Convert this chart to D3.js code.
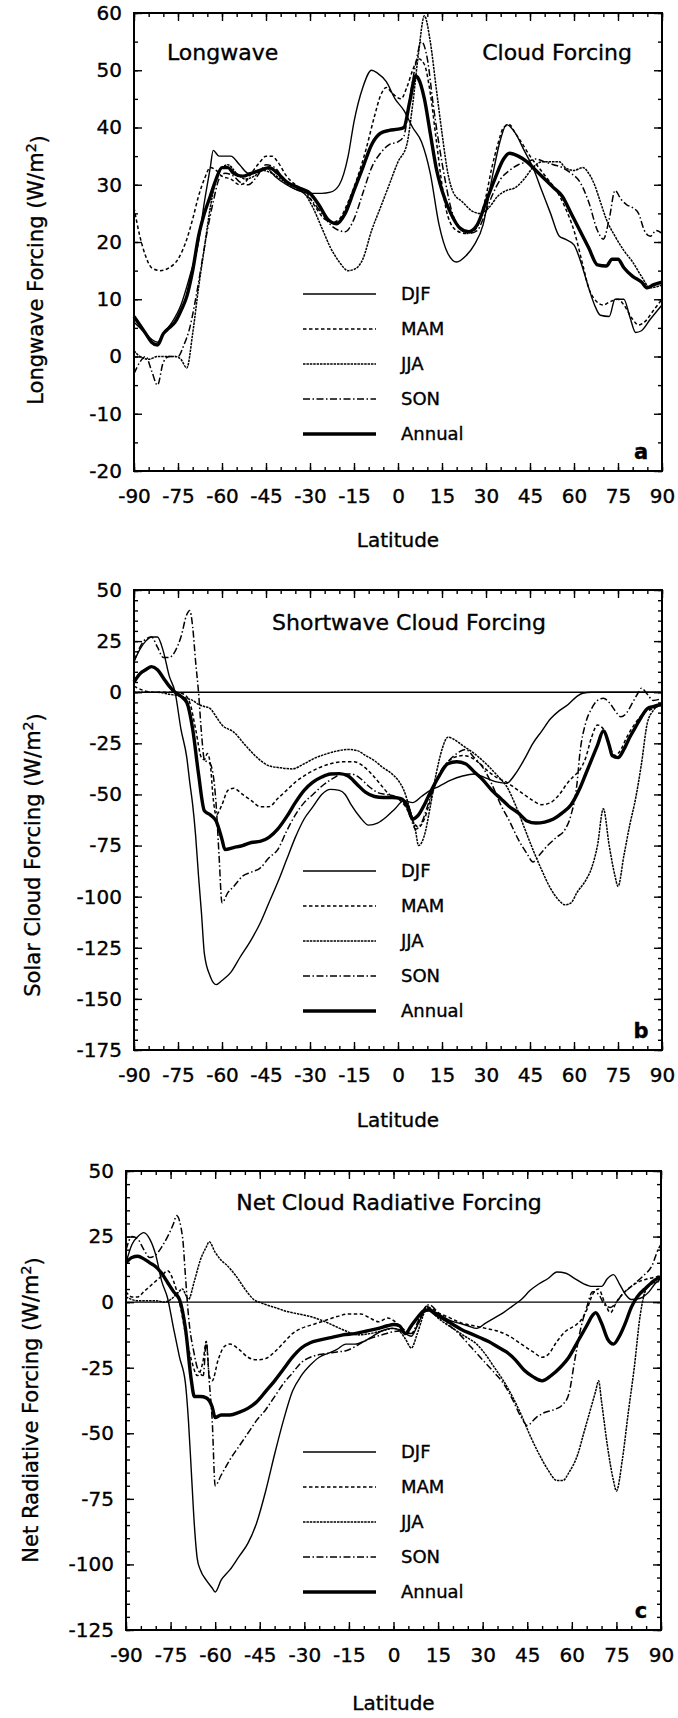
<!DOCTYPE html>
<html>
<head>
<meta charset="utf-8">
<script src="https://cdn.jsdelivr.net/npm/d3@7"></script>
<style>
  body { margin: 0; background: #fff; }
  svg { display: block; }
  text { font-family: "DejaVu Sans", sans-serif; fill: #000; stroke: #000; stroke-width: 0.35px; }
</style>
</head>
<body>
<svg id="chart" width="678" height="1718"></svg>
<script>
// ---------- zonal-mean cloud forcing, [latitude, W/m2] ----------
const lwDJF = [[-90,6],[-87,4.5],[-84,3],[-82,2.5],[-80,4],[-77,6],[-74,9],[-71,14],[-68,20],[-66,27],[-64,33],[-63,36],[-61,35],[-59,35],[-57,35],[-54,33.5],[-51,32],[-48,32.5],[-45,33],[-42,31.5],[-38,30],[-34,29],[-30,28.5],[-26,28.5],[-23,28.7],[-20,30],[-17,35],[-15,41],[-12,47],[-9,50],[-7,49.5],[-4,48],[-1,45],[2,43],[5,40],[8,37.5],[11,32],[14,23],[17,18],[20,16.5],[23,17.5],[26,19.5],[29,23],[32,31],[35,38],[37,40.5],[40,39],[43,36],[46,33],[49,29],[52,25],[55,21],[57,20.5],[60,19.5],[62,17],[65,12],[67,9],[69,7.2],[72,7],[74,10],[77,10],[79,7],[81,4.2],[83,4.5],[86,6.5],[90,9]];
const lwMAM = [[-90,26],[-88,21],[-86,17.5],[-84,15.5],[-81,15],[-78,15.5],[-75,17],[-72,20.5],[-70,24],[-68,28],[-66,31],[-64,33],[-62,32.5],[-60,31.5],[-57,31],[-54,30],[-52,30.5],[-50,32],[-47,34],[-45,35],[-43,35],[-41,34],[-38,31.5],[-35,30],[-31,28.5],[-28,26],[-25,24],[-22,23.5],[-20,24],[-17,27],[-14,31],[-11,36],[-8,42],[-6,45.5],[-4,47],[-2,46],[1,45],[3,47],[5,50],[7,52],[9,51],[11,46],[13,38],[15,30],[17,24.5],[20,22],[23,21.5],[26,22],[28,24],[30,28],[32,33],[34,37],[36,40],[38,40.5],[40,39],[42,37.5],[45,35],[48,33],[51,31],[54,29],[57,26],[60,22],[63,16],[65,12],[67,10],[70,9],[72,9.5],[75,10],[77,9],[80,6.5],[82,5.5],[84,6],[87,8],[90,10]];
const lwJJA = [[-90,1],[-88,0],[-85,-0.5],[-82,0],[-79,0],[-76,0],[-74,-0.5],[-72,-2],[-70,4],[-68,12],[-66,19],[-64,26],[-62,31],[-60,33],[-58,33.5],[-55,32],[-52,31],[-49,31.5],[-46,32.5],[-43,32],[-40,31],[-36,29.5],[-32,28.5],[-29,26],[-26,22.5],[-23,19],[-20,16.5],[-17,15],[-15,15.2],[-12,17],[-9,22],[-6,26],[-3,30],[0,34],[3,37],[5,44],[7,53],[9,59.5],[11,55],[13,47],[15,39],[17,32],[19,28.5],[22,27],[25,25.5],[28,25],[31,26],[34,28],[37,29],[40,29.5],[43,31],[46,33],[49,34],[52,34],[55,34],[57,33],[60,32.5],[63,33],[65,32],[67,30],[69,27],[71,24],[74,21],[77,18.5],[80,16.5],[83,14],[86,12],[90,12.5]];
const lwSON = [[-90,-3],[-88,-1],[-86,0],[-84,-2.5],[-82,-5],[-80,-1],[-78,0],[-75,0],[-73,2],[-71,5],[-69,10],[-67,16],[-65,22],[-63,27],[-61,31],[-59,32],[-56,31.5],[-54,30.5],[-51,30],[-48,31.5],[-45,33.5],[-42,33],[-39,31],[-36,30],[-32,28.5],[-29,27],[-26,25],[-23,23],[-20,22],[-18,21.8],[-15,24],[-12,28.5],[-9,33],[-6,35.5],[-3,37],[0,37.5],[2,38.5],[4,45],[6,51],[8,55],[10,52],[12,44],[14,37],[16,31],[18,26],[21,22.5],[24,21.5],[27,22],[29,24],[32,28],[35,31],[38,32.5],[41,33.5],[44,34],[47,34.5],[50,34],[53,33.5],[56,33],[59,32],[62,30.5],[65,27],[68,22],[70,20.5],[72,24],[74,29],[76,27.5],[78,26.5],[80,26],[82,25],[84,22],[86,21],[88,22],[90,21.5]];
const lwAnnual = [[-90,7],[-88,5.5],[-86,4],[-84,2.5],[-82,2],[-80,4],[-78,5],[-76,6],[-74,8],[-72,10.5],[-70,15],[-68,21],[-66,25],[-64,28],[-62,31],[-60,33],[-58,33],[-56,32],[-53,31.5],[-50,32],[-47,32.5],[-44,33],[-41,32],[-38,30.5],[-34,29.5],[-30,28.5],[-27,26.5],[-24,24],[-21,23.2],[-18,25],[-15,29],[-12,33],[-9,37],[-6,39],[-3,39.5],[0,39.7],[2,40],[4,44.5],[6,49],[7,48.5],[9,45],[11,39],[13,33],[15,29],[18,25],[21,22.5],[24,21.8],[27,23],[30,27],[33,31],[36,34.5],[38,35.5],[41,35],[44,34],[47,32.5],[50,31],[53,29.5],[56,28],[59,25],[62,22],[65,19],[68,16],[71,15.8],[73,17],[75,17],[77,15.5],[80,14],[83,13],[85,12],[87,12.5],[90,13]];

const swDJF = [[-90,15],[-88,21],[-86,25],[-84,27],[-82,27],[-80,20],[-78,8],[-76,0],[-74,-18],[-72,-32],[-71,-44],[-70,-55],[-69,-70],[-68,-90],[-67,-108],[-66,-128],[-64,-139],[-62,-143],[-60,-141],[-57,-137],[-54,-130],[-50,-121],[-47,-113],[-44,-103],[-41,-93],[-38,-82],[-35,-71],[-32,-62],[-29,-56],[-26,-50],[-23,-47.5],[-20,-48],[-18,-50],[-16,-55],[-13,-61],[-10,-65],[-7,-64],[-4,-61],[-1,-57],[2,-53],[5,-54],[8,-51],[11,-48],[14,-46],[18,-43],[22,-41],[26,-40],[30,-42],[34,-44],[37,-44.5],[40,-40],[43,-33],[46,-25],[49,-19],[52,-13],[55,-9],[58,-6],[61,-2],[63,-0.5],[66,0],[90,0]];
const swMAM = [[-90,3],[-87,1],[-84,0],[-80,0],[-76,0],[-73,-1],[-71,-5],[-69,-18],[-67,-32],[-66,-33],[-65,-30],[-64,-35],[-63,-52],[-62,-60],[-60,-55],[-58,-48],[-56,-47],[-53,-50],[-50,-53],[-47,-56],[-44,-56],[-41,-52],[-38,-48],[-35,-44],[-31,-40],[-27,-37],[-23,-35],[-19,-34],[-15,-34],[-12,-36],[-9,-40],[-6,-45],[-3,-50],[0,-52],[3,-57],[5,-63],[7,-66],[9,-62],[11,-53],[13,-44],[16,-36],[19,-32],[22,-31],[25,-32],[28,-35],[31,-39],[34,-42],[37,-44],[40,-47],[43,-50],[46,-53],[49,-55],[52,-54],[55,-50],[58,-44],[60,-41],[62,-38],[64,-32],[66,-22],[68,-16],[70,-18],[72,-26],[74,-31],[76,-28],[78,-22],[81,-15],[84,-10],[87,-8],[90,-6]];
const swJJA = [[-90,0],[-86,0],[-82,0],[-78,-1],[-74,-2],[-72,-3],[-70,-4],[-68,-6],[-66,-7],[-64,-8],[-62,-12],[-60,-16],[-56,-19.5],[-52,-26],[-48,-32],[-44,-36],[-40,-37],[-36,-37.5],[-32,-35],[-28,-32],[-24,-30],[-20,-28.5],[-17,-28],[-14,-28.5],[-11,-31],[-8,-33.5],[-5,-37],[-2,-40],[0,-43],[2,-48],[4,-57],[6,-68],[7,-75],[9,-70],[11,-56],[13,-40],[15,-28],[17,-22],[19,-23],[22,-26],[26,-30],[30,-35],[34,-41],[37,-46],[40,-55],[43,-66],[46,-77],[49,-87],[52,-96],[55,-102],[57,-104],[59,-103],[61,-98],[64,-92],[66,-86],[68,-75],[70,-57],[72,-75],[74,-90],[75,-95],[77,-80],[79,-65],[81,-52],[83,-35],[85,-15],[87,-9],[90,-5]];
const swSON = [[-90,15],[-88,22],[-86,26],[-84,27],[-82,22],[-80,17],[-78,17],[-76,20],[-74,27],[-72,38],[-71,40],[-70,32],[-69,15],[-68,0],[-67,-20],[-66,-33],[-64,-35],[-62,-55],[-61,-80],[-60,-103],[-58,-98],[-56,-95],[-53,-90],[-50,-88],[-47,-86],[-44,-81],[-41,-77],[-38,-68],[-35,-60],[-32,-54],[-29,-50],[-26,-46],[-22,-42],[-19,-40],[-16,-40],[-13,-42],[-10,-46],[-7,-49],[-4,-50],[-1,-51],[2,-54],[4,-60],[6,-67],[8,-64],[10,-56],[12,-47],[14,-40],[17,-34],[20,-30],[23,-28],[26,-32],[29,-37],[32,-45],[35,-55],[38,-63],[41,-72],[44,-79],[46,-83],[48,-80],[51,-75],[54,-71],[57,-67],[59,-60],[61,-45],[62,-30],[64,-15],[66,-8],[68,-4],[70,-3],[72,-5],[74,-9],[76,-12],[78,-10],[80,-5],[82,0],[83,2],[85,-1],[87,-4],[90,-3]];
const swAnnual = [[-90,5],[-88,9],[-86,11],[-84,12.5],[-82,11],[-80,7],[-78,3],[-76,0],[-74,-2],[-72,-5],[-70,-18],[-68,-40],[-66,-58],[-64,-60],[-62,-63],[-60,-72],[-59,-77],[-56,-76],[-53,-75],[-50,-73.5],[-47,-73],[-44,-71],[-41,-67],[-38,-61],[-35,-54],[-32,-48],[-29,-44],[-26,-41.5],[-23,-40],[-20,-39.8],[-17,-41],[-14,-45],[-11,-49],[-8,-51],[-5,-51.5],[-2,-51.5],[1,-52],[3,-55],[5,-62],[7,-60],[9,-55],[11,-49],[14,-41],[17,-35],[20,-34],[23,-35],[26,-39],[29,-43],[32,-48],[35,-52],[38,-56],[41,-59],[44,-63],[47,-64],[50,-63.5],[53,-62],[56,-59],[59,-55],[62,-47],[64,-40],[66,-33],[68,-26],[70,-19],[72,-26],[73,-31],[75,-32],[77,-28],[79,-22],[81,-17],[83,-12],[85,-8],[87,-7],[90,-6]];

const netDJF = [[-90,15],[-88,22],[-86,25],[-84,26.5],[-82,24],[-80,18],[-78,8],[-76,1.5],[-74,-10],[-72,-21],[-70,-31],[-69,-45],[-68,-65],[-67,-85],[-66,-98],[-65,-102],[-63,-106],[-61,-109],[-60,-110.5],[-58,-106],[-55,-102],[-52,-97],[-49,-92],[-46,-84],[-43,-72],[-40,-58],[-37,-45],[-34,-34],[-31,-28],[-28,-24],[-25,-21],[-22,-19.5],[-19,-18],[-16,-16],[-13,-16],[-10,-15],[-7,-13],[-4,-11],[-1,-10],[2,-10.5],[4,-12],[6,-13],[8,-9],[10,-4],[11,-1.5],[13,-3],[16,-5],[19,-7],[22,-8],[25,-9],[28,-10],[31,-8],[34,-6],[37,-4],[40,-1.5],[43,1],[46,4.5],[49,7],[52,9],[55,11.5],[58,11],[61,9],[64,7],[67,6],[70,6],[72,9],[74,10.5],[76,7],[78,3],[80,1],[83,1.5],[86,4],[88,7],[90,9]];
const netMAM = [[-90,4],[-88,2],[-86,2],[-84,4],[-81,7],[-78,10],[-76,12],[-74,8],[-72,0],[-70,-12],[-68,-22],[-66,-28],[-64,-22],[-63,-15],[-62,-28],[-61,-30],[-59,-22],[-57,-17],[-55,-16],[-52,-18],[-49,-21],[-46,-22],[-43,-21.5],[-40,-19],[-37,-15.5],[-34,-12],[-31,-10],[-27,-8.5],[-23,-7],[-19,-5.5],[-15,-4.5],[-11,-4.5],[-8,-6],[-5,-7.5],[-2,-6],[0,-7],[3,-10],[6,-12],[8,-9],[10,-4],[12,-2],[15,-4],[19,-6],[23,-8],[27,-9],[31,-10],[35,-11],[39,-13],[43,-16],[47,-19],[50,-21],[52,-20],[55,-15],[58,-11],[61,-9],[63,-7],[65,-3],[67,3],[69,5],[71,0],[73,-4],[75,0],[77,3],[80,6],[83,8],[86,9],[90,10]];
const netJJA = [[-90,2],[-88,1],[-86,0.5],[-83,0.5],[-80,0.5],[-77,0],[-75,1],[-73,3],[-71,5],[-70,3],[-69,1],[-67,8],[-65,16],[-63,21],[-62,23],[-60,19],[-58,16],[-56,14],[-53,10],[-50,5],[-47,1],[-44,-0.5],[-40,-2],[-36,-3.5],[-32,-4.5],[-28,-5.5],[-24,-7],[-20,-9],[-16,-11],[-12,-12.5],[-8,-12],[-4,-11],[0,-10],[2,-11],[4,-14],[6,-17.5],[8,-12],[10,-5],[11,-2],[13,-4],[16,-7],[20,-10],[24,-13],[28,-16],[31,-20],[34,-25],[37,-30],[40,-36],[43,-43],[46,-51],[49,-58],[52,-64],[55,-68],[57,-68],[59,-65],[62,-58],[64,-50],[66,-42],[68,-34],[69,-30],[70,-38],[72,-55],[74,-68],[75,-72],[77,-60],[79,-42],[81,-25],[83,-5],[85,5],[87,7],[90,8]];
const netSON = [[-90,20],[-88,25],[-86,24],[-84,20],[-82,17],[-80,18],[-78,21],[-76,25],[-74,30],[-73,33],[-71,25],[-70,10],[-69,-5],[-67,-20],[-66,-25],[-64,-28],[-63,-15],[-62,-30],[-61,-45],[-60,-70],[-58,-66],[-55,-60],[-52,-55],[-49,-50],[-46,-45],[-43,-41],[-40,-36],[-37,-31],[-34,-27],[-31,-23],[-28,-21],[-25,-20],[-22,-19.5],[-19,-19],[-16,-18.5],[-13,-17],[-10,-15],[-7,-13.5],[-4,-12.5],[-1,-11.5],[2,-11],[4,-11.5],[6,-12],[8,-8],[10,-3],[12,-1],[15,-4],[18,-8],[22,-12],[26,-17],[30,-22],[34,-27],[37,-31],[40,-37],[43,-44],[45,-47],[48,-44],[51,-42],[54,-41],[57,-39],[59,-35],[61,-22],[63,-10],[65,-2],[67,4],[69,3],[71,-1],[73,-2],[75,0],[77,3],[79,5],[81,7],[84,10],[87,14],[89,20],[90,22]];
const netAnnual = [[-90,15],[-88,17],[-86,17.5],[-84,16.5],[-82,15],[-80,13.5],[-78,11],[-76,7.5],[-74,4],[-72,1],[-70,-10],[-68,-30],[-67,-36],[-65,-36],[-63,-36.5],[-61,-40],[-60,-44],[-58,-43],[-55,-43],[-52,-42],[-49,-40.5],[-46,-38],[-43,-34],[-40,-30],[-37,-25.5],[-34,-21],[-31,-17.5],[-28,-15.5],[-25,-14.5],[-21,-13.5],[-17,-12.5],[-13,-12],[-9,-11],[-5,-10],[-2,-9],[0,-8.5],[2,-9],[4,-12],[6,-9],[8,-6],[10,-3.5],[12,-3],[14,-4.5],[17,-6.5],[20,-8.5],[23,-10.5],[26,-12],[29,-13.5],[32,-15],[35,-17],[38,-19],[41,-22],[44,-26],[47,-28.5],[50,-30],[53,-28],[56,-25],[59,-21],[62,-15],[65,-9],[67,-5],[68,-4],[70,-8],[72,-14],[74,-16],[76,-13],[78,-8],[80,-2],[82,2],[85,5.5],[88,8.5],[90,9.5]];

// ---------- axis ticks and labels ----------
const latTicks = [-90,-75,-60,-45,-30,-15,0,15,30,45,60,75,90];
const lwTicks = [-20,-10,0,10,20,30,40,50,60];
const swTicks = [-175,-150,-125,-100,-75,-50,-25,0,25,50];
const netTicks = [-125,-100,-75,-50,-25,0,25,50];
const seasons = ["DJF","MAM","JJA","SON","Annual"];

// ---------- drawing setup ----------
const seasonStyle = {
  DJF:    { width: 1.4, dash: null },
  MAM:    { width: 1.5, dash: "3.5,2.5" },
  JJA:    { width: 1.5, dash: "2.5,0.9" },
  SON:    { width: 1.5, dash: "7,2.5,1.5,2.5" },
  Annual: { width: 3.4, dash: null }
};

const panels = [
  { box: { left: 134, right: 662, top: 13, bottom: 471 }, domain: [-20, 60], ticks: lwTicks,
    series: [lwDJF, lwMAM, lwJJA, lwSON, lwAnnual], zeroLine: false,
    yTitle: "Longwave Forcing", yTitleX: 35, yTitleY: 270, xTitleY: 547, letter: "a",
    titles: [ { text: "Longwave", x: 167, y: 60, anchor: "start" },
              { text: "Cloud Forcing", x: 632, y: 60, anchor: "end" } ] },
  { box: { left: 134, right: 662, top: 590, bottom: 1050 }, domain: [-175, 50], ticks: swTicks,
    series: [swDJF, swMAM, swJJA, swSON, swAnnual], zeroLine: true,
    yTitle: "Solar Cloud Forcing", yTitleX: 32, yTitleY: 855, xTitleY: 1127, letter: "b",
    titles: [ { text: "Shortwave Cloud Forcing", x: 409, y: 630, anchor: "middle" } ] },
  { box: { left: 126, right: 661, top: 1171, bottom: 1630 }, domain: [-125, 50], ticks: netTicks,
    series: [netDJF, netMAM, netJJA, netSON, netAnnual], zeroLine: true,
    yTitle: "Net Radiative Forcing", yTitleX: 30, yTitleY: 1410, xTitleY: 1710, letter: "c",
    titles: [ { text: "Net Cloud Radiative Forcing", x: 389, y: 1210, anchor: "middle" } ] }
];

const svg = d3.select("#chart");
const plainNumber = d => String(d);

function styleAxis(g, size) {
  g.attr("font-family", null).attr("font-size", null);
  g.select(".domain").remove();
  g.selectAll(".tick line").attr("stroke", "#000").attr("stroke-width", 1.4);
  g.selectAll("text").style("font-size", size + "px").attr("fill", "#000");
}

panels.forEach(p => {
  const b = p.box;
  const x = d3.scaleLinear().domain([-90, 90]).range([b.left, b.right]);
  const y = d3.scaleLinear().domain(p.domain).range([b.bottom, b.top]);
  const g = svg.append("g");

  const minorX = d3.range(-90, 90.01, 5);
  const minorY = d3.range(p.domain[0], p.domain[1] + 0.01, 5);

  // minor ticks on all four sides, pointing inward
  [[d3.axisBottom(x), b.bottom], [d3.axisTop(x), b.top]].forEach(([ax, pos]) => {
    g.append("g").attr("transform", `translate(0,${pos})`)
      .call(ax.tickValues(minorX).tickSize(-4).tickFormat(""))
      .call(s => styleAxis(s, 20));
  });
  [[d3.axisLeft(y), b.left], [d3.axisRight(y), b.right]].forEach(([ax, pos]) => {
    g.append("g").attr("transform", `translate(${pos},0)`)
      .call(ax.tickValues(minorY).tickSize(-4).tickFormat(""))
      .call(s => styleAxis(s, 20));
  });

  // major ticks with labels
  g.append("g").attr("transform", `translate(0,${b.bottom})`)
    .call(d3.axisBottom(x).tickValues(latTicks).tickSize(-8).tickPadding(18).tickFormat(plainNumber))
    .call(s => styleAxis(s, 20));
  g.append("g").attr("transform", `translate(0,${b.top})`)
    .call(d3.axisTop(x).tickValues(latTicks).tickSize(-8).tickFormat(""))
    .call(s => styleAxis(s, 20));
  g.append("g").attr("transform", `translate(${b.left},0)`)
    .call(d3.axisLeft(y).tickValues(p.ticks).tickSize(-8).tickPadding(12).tickFormat(plainNumber))
    .call(s => styleAxis(s, 20));
  g.append("g").attr("transform", `translate(${b.right},0)`)
    .call(d3.axisRight(y).tickValues(p.ticks).tickSize(-8).tickFormat(""))
    .call(s => styleAxis(s, 20));

  // frame
  g.append("rect").attr("x", b.left).attr("y", b.top)
    .attr("width", b.right - b.left).attr("height", b.bottom - b.top)
    .attr("fill", "none").attr("stroke", "#000").attr("stroke-width", 2);

  if (p.zeroLine) {
    g.append("line").attr("x1", b.left).attr("x2", b.right)
      .attr("y1", y(0)).attr("y2", y(0)).attr("stroke", "#000").attr("stroke-width", 1.4);
  }

  // curves
  const line = d3.line().x(d => x(d[0])).y(d => y(d[1])).curve(d3.curveMonotoneX);
  p.series.forEach((data, i) => {
    const st = seasonStyle[seasons[i]];
    g.append("path").datum(data).attr("d", line)
      .attr("fill", "none").attr("stroke", "#000")
      .attr("stroke-width", st.width).attr("stroke-linejoin", "round")
      .attr("stroke-dasharray", st.dash);
  });

  // legend
  seasons.forEach((s, i) => {
    const ly = b.top + 281 + i * 35;
    const st = seasonStyle[s];
    g.append("line").attr("x1", 303).attr("x2", 376).attr("y1", ly).attr("y2", ly)
      .attr("stroke", "#000").attr("stroke-width", st.width).attr("stroke-dasharray", st.dash);
    g.append("text").attr("x", 401).attr("y", ly).attr("dy", "0.36em")
      .style("font-size", "18px").text(s);
  });

  // in-plot titles
  p.titles.forEach(t => {
    g.append("text").attr("x", t.x).attr("y", t.y).attr("text-anchor", t.anchor)
      .style("font-size", "22px").text(t.text);
  });

  // panel letter
  g.append("text").attr("x", 641).attr("y", b.bottom - 12).attr("text-anchor", "middle")
    .style("font-size", "21px").style("font-weight", "bold").text(p.letter);

  // axis titles
  g.append("text").attr("x", (b.left + b.right) / 2).attr("y", p.xTitleY)
    .attr("text-anchor", "middle").style("font-size", "20px").text("Latitude");
  const yt = g.append("text")
    .attr("transform", `translate(${p.yTitleX},${p.yTitleY}) rotate(-90)`)
    .attr("text-anchor", "middle").attr("dy", "0.36em").style("font-size", "21px");
  yt.append("tspan").text(p.yTitle + " (W/m");
  yt.append("tspan").attr("dy", "-0.45em").style("font-size", "14px").text("2");
  yt.append("tspan").attr("dy", "0.45em").text(")");
});
</script>
</body>
</html>
